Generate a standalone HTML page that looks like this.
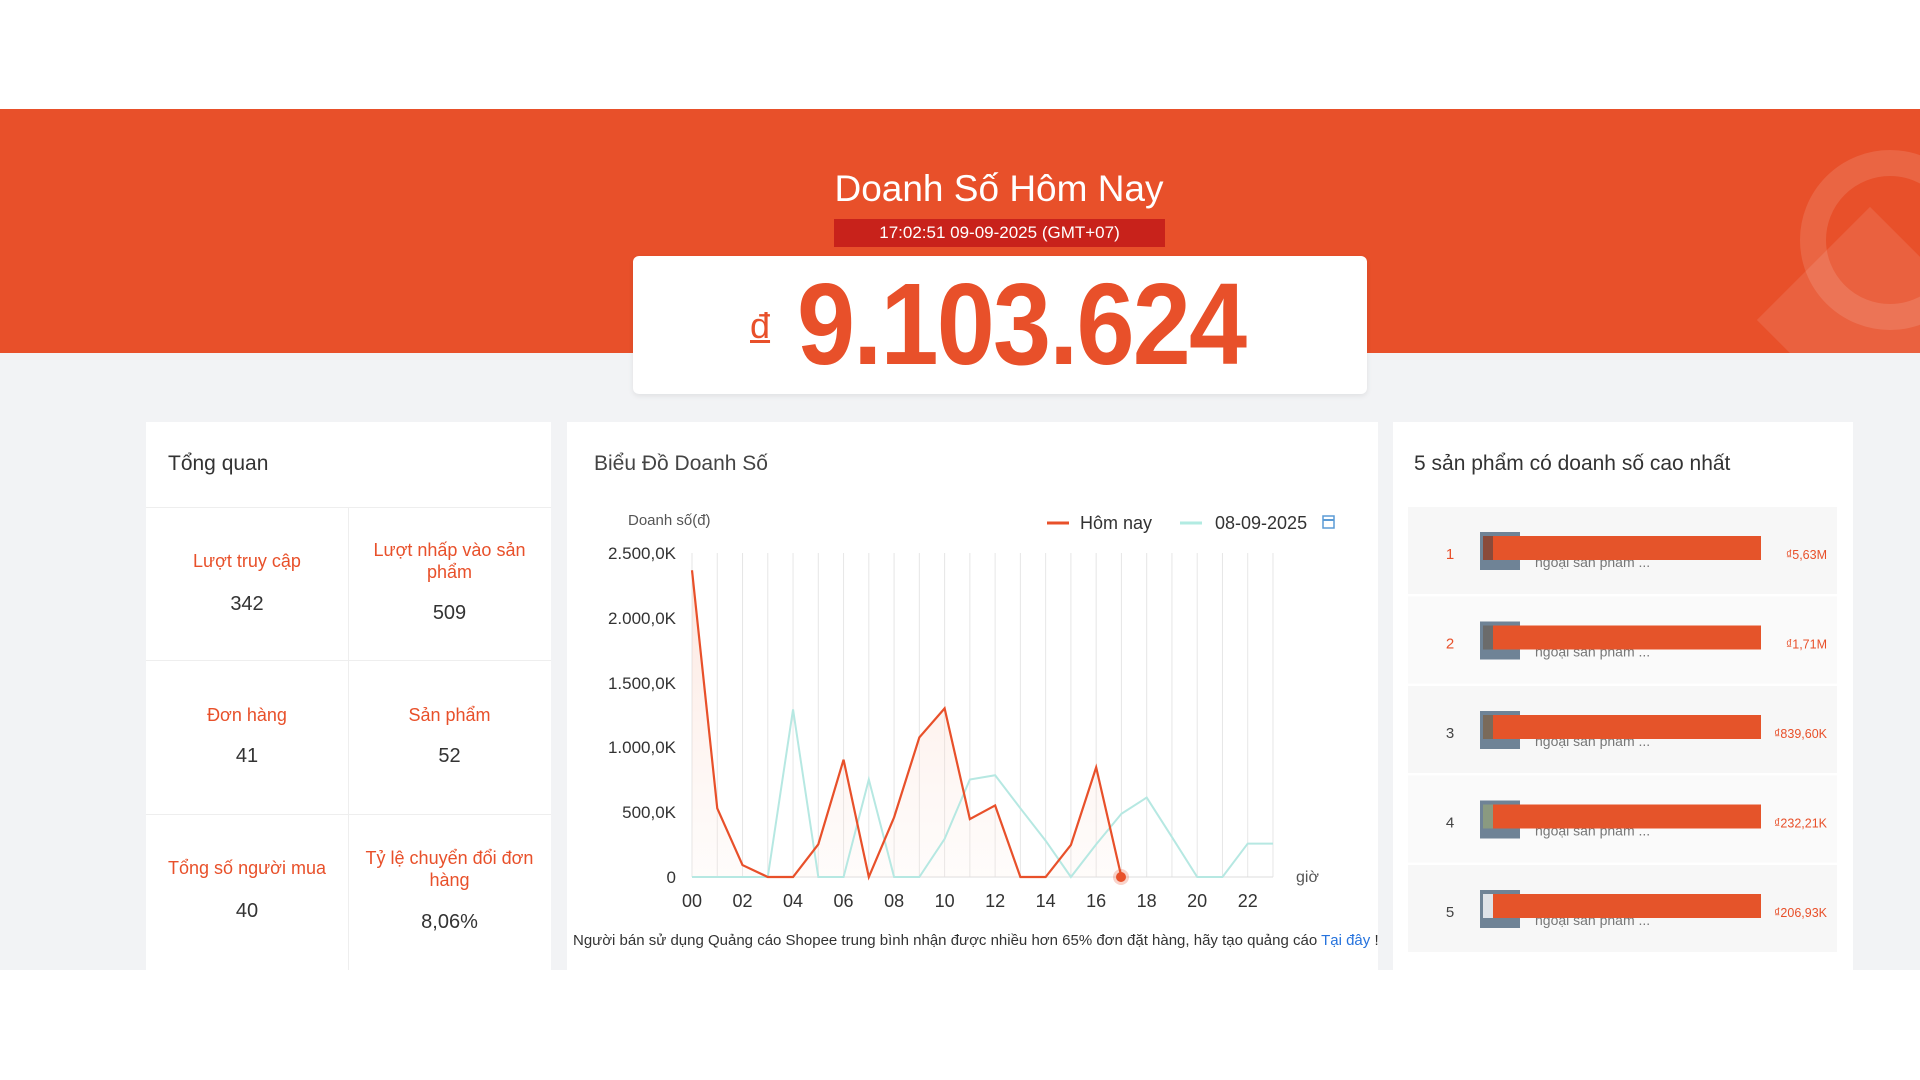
<!DOCTYPE html>
<html><head><meta charset="utf-8"><style>
*{margin:0;padding:0;box-sizing:border-box}
body{width:1920px;height:1080px;position:relative;background:#fff;font-family:"Liberation Sans",sans-serif;overflow:hidden}
.abs{position:absolute}
.hdr{left:0;top:109px;width:1920px;height:244px;background:#e8502a}
.gray{left:0;top:353px;width:1920px;height:617px;background:#f2f3f5}
.panel{background:#fff}
.t{color:#333}
.lab{color:#e8502a;font-size:18px;text-align:center;line-height:22px}
.val{color:#333;font-size:20px;text-align:center}
</style></head><body>
<div class="abs hdr"></div>
<div class="abs" style="left:1800px;top:150px;width:180px;height:180px;border:26px solid rgba(255,255,255,0.12);border-radius:50%"></div>
<div class="abs" style="left:1790px;top:240px;width:160px;height:160px;background:rgba(255,255,255,0.10);transform:rotate(45deg)"></div>
<div class="abs gray"></div>
<div class="abs" style="left:0;top:168px;width:1998px;text-align:center;color:#fff;font-size:37px">Doanh Số Hôm Nay</div>
<div class="abs" style="left:834px;top:219px;width:331px;height:28px;background:#c8221b;color:#fff;font-size:17px;text-align:center;line-height:28px">17:02:51 09-09-2025 (GMT+07)</div>
<div class="abs panel" style="left:633px;top:256px;width:734px;height:138px;border-radius:6px;box-shadow:0 2px 6px rgba(0,0,0,0.08)"></div>
<div class="abs" style="left:750px;top:305px;color:#e8502a;font-size:36px;text-decoration:underline">đ</div>
<div class="abs" style="left:797px;top:264px;color:#e8502a;font-size:116px;font-weight:bold;letter-spacing:-2px;line-height:120px;transform:scaleX(0.9);transform-origin:0 0">9.103.624</div>

<!-- left panel -->
<div class="abs panel" style="left:146px;top:422px;width:405px;height:548px"></div>
<div class="abs t" style="left:168px;top:452px;font-size:21px">Tổng quan</div>
<div class="abs" style="left:146px;top:507px;width:405px;height:1px;background:#eee"></div>
<div class="abs" style="left:146px;top:660px;width:405px;height:1px;background:#eee"></div>
<div class="abs" style="left:146px;top:814px;width:405px;height:1px;background:#eee"></div>
<div class="abs" style="left:348px;top:507px;width:1px;height:463px;background:#eee"></div>
<div class="abs lab" style="left:146px;top:550px;width:202px">Lượt truy cập</div>
<div class="abs val" style="left:146px;top:593px;width:202px">342</div>
<div class="abs lab" style="left:358px;top:539px;width:183px">Lượt nhấp vào sản phẩm</div>
<div class="abs val" style="left:348px;top:602px;width:203px">509</div>
<div class="abs lab" style="left:146px;top:704px;width:202px">Đơn hàng</div>
<div class="abs val" style="left:146px;top:745px;width:202px">41</div>
<div class="abs lab" style="left:348px;top:704px;width:203px">Sản phẩm</div>
<div class="abs val" style="left:348px;top:745px;width:203px">52</div>
<div class="abs lab" style="left:146px;top:857px;width:202px">Tổng số người mua</div>
<div class="abs val" style="left:146px;top:900px;width:202px">40</div>
<div class="abs lab" style="left:358px;top:847px;width:183px">Tỷ lệ chuyển đổi đơn hàng</div>
<div class="abs val" style="left:348px;top:911px;width:203px">8,06%</div>

<!-- chart panel -->
<div class="abs panel" style="left:567px;top:422px;width:811px;height:548px"></div>
<div class="abs t" style="left:594px;top:452px;font-size:21px;color:#444">Biểu Đồ Doanh Số</div>
<!-- right panel -->
<div class="abs panel" style="left:1393px;top:422px;width:460px;height:548px"></div>
<div class="abs t" style="left:1414px;top:452px;font-size:21px">5 sản phẩm có doanh số cao nhất</div>

<svg class="abs" style="left:0;top:0" width="1920" height="1080" font-family="Liberation Sans, sans-serif">
<defs><linearGradient id="g" x1="0" y1="0" x2="0" y2="1"><stop offset="0" stop-color="#f6b9a3" stop-opacity="0.35"/><stop offset="1" stop-color="#fde9e1" stop-opacity="0.15"/></linearGradient></defs>
<g stroke="#e6e6e6" stroke-width="1" id="grid"></g>
<text x="628" y="525" font-size="15" fill="#555">Doanh số(đ)</text>
<g font-size="17" fill="#333" text-anchor="end">
<text x="676" y="559">2.500,0K</text><text x="676" y="624">2.000,0K</text><text x="676" y="689">1.500,0K</text><text x="676" y="753">1.000,0K</text><text x="676" y="818">500,0K</text><text x="676" y="883">0</text>
</g>
<text x="1296" y="882" font-size="16" fill="#555">giờ</text>
<line x1="1047" y1="523" x2="1069" y2="523" stroke="#e8502a" stroke-width="3"/>
<text x="1080" y="529" font-size="18" fill="#333">Hôm nay</text>
<line x1="1180" y1="523" x2="1202" y2="523" stroke="#b2ebe2" stroke-width="3"/>
<text x="1215" y="529" font-size="18" fill="#333">08-09-2025</text>
<rect x="1323" y="516" width="11" height="12" fill="none" stroke="#5b9bd5" stroke-width="1.5"/>
<line x1="1323" y1="520" x2="1334" y2="520" stroke="#5b9bd5" stroke-width="2"/>
<g id="xl" font-size="18" fill="#333" text-anchor="middle"></g>
<path id="area" fill="url(#g)"/>
<polyline id="teal" fill="none" stroke="#b6e8e2" stroke-width="2"/>
<polyline id="red" fill="none" stroke="#e8502a" stroke-width="2.2"/>
<circle cx="1121" cy="877" r="5" fill="#e8502a"/><circle cx="1121" cy="877" r="8" fill="#e8502a" opacity="0.25"/>
<text x="573" y="945" font-size="15" fill="#333">Người bán sử dụng Quảng cáo Shopee trung bình nhận được nhiều hơn 65% đơn đặt hàng, hãy tạo quảng cáo <tspan fill="#2673dd">Tại đây</tspan> !</text>
<g id="rows"></g>
</svg>
<script>
var x0=692,dx=25.26,y0=877,k=324/2500,ns="http://www.w3.org/2000/svg";
function X(i){return x0+i*dx}function Y(v){return y0-v*k}
var g=document.getElementById('grid');
for(var i=0;i<=23;i++){var l=document.createElementNS(ns,'line');l.setAttribute('x1',X(i));l.setAttribute('x2',X(i));l.setAttribute('y1',553);l.setAttribute('y2',877);g.appendChild(l);}
var b=document.createElementNS(ns,'line');b.setAttribute('x1',x0);b.setAttribute('x2',X(23));b.setAttribute('y1',877);b.setAttribute('y2',877);b.setAttribute('stroke','#ddd');g.appendChild(b);
var xl=document.getElementById('xl');
for(var i=0;i<=22;i+=2){var t=document.createElementNS(ns,'text');t.setAttribute('x',X(i));t.setAttribute('y',907);t.textContent=(i<10?'0':'')+i;xl.appendChild(t);}
var red=[2367,530,92,0,0,252,905,0,460,1077,1301,447,552,0,0,247,846,0];
var teal=[0,0,0,0,1293,0,0,752,0,0,294,752,785,530,280,0,252,488,613,308,0,0,258,258];
function pts(a){return a.map(function(v,i){return X(i)+','+Y(v)}).join(' ')}
document.getElementById('red').setAttribute('points',pts(red));
document.getElementById('teal').setAttribute('points',pts(teal));
document.getElementById('area').setAttribute('d','M'+X(0)+','+y0+' L'+pts(red).replace(/ /g,' L')+' L'+X(17)+','+y0+'Z');
var rows=document.getElementById('rows');
var amt=['₫5,63M','₫1,71M','₫839,60K','₫232,21K','₫206,93K'];
var th=['#8a4a3a','#6b6b6b','#7a6a5a','#8a9a80','#dfe3e8'];
for(var r=0;r<5;r++){var y=507+r*89.5;
 var h='<rect x="1408" y="'+y+'" width="429" height="87" fill="'+(r%2==0?'#f7f7f7':'#fafafa')+'"/>'+
 '<text x="1450" y="'+(y+52)+'" font-size="15" text-anchor="middle" fill="'+(r<2?'#e8502a':'#444')+'">'+(r+1)+'</text>'+
 '<rect x="1480" y="'+(y+25)+'" width="40" height="38" fill="#6f8396"/><rect x="1483" y="'+(y+29)+'" width="26" height="24" fill="'+th[r]+'"/>'+
 '<text x="1535" y="'+(y+60)+'" font-size="14" fill="#777">ngoại sản phẩm ...</text>'+
 '<rect x="1493" y="'+(y+29)+'" width="268" height="24" fill="#e5542a"/>'+
 '<text x="1827" y="'+(y+52)+'" font-size="12.5" text-anchor="end" fill="#e8502a">'+amt[r]+'</text>';
 rows.insertAdjacentHTML('beforeend',h);}
</script>
</body></html>
